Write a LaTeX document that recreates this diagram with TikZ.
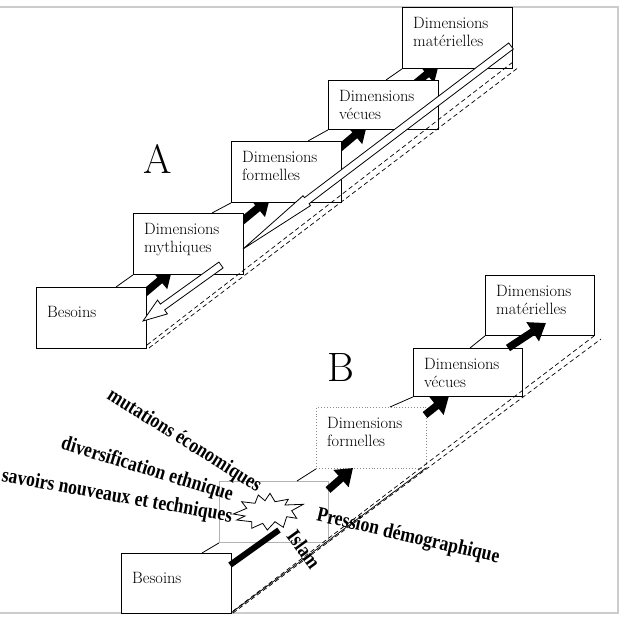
\documentclass[tikz,border=0pt]{standalone}
\usepackage{fontspec}
\usepackage{graphicx}
\newfontfamily\labfont{Liberation Serif}
\usetikzlibrary{arrows.meta,calc}
\newcommand\hollowarr[5]{%
  \path (#2) coordinate (hp) ($(#2)!#4!(#1)$) coordinate (hb);
  \draw[hollow] ($(#1)!#3!90:(hp)$) -- ($(hb)!#3!90:(hp)$) -- ($(hb)!#5!90:(hp)$) -- (hp)
    -- ($(hb)!#5!-90:(hp)$) -- ($(hb)!#3!-90:(hp)$) -- ($(#1)!#3!-90:(hp)$) -- cycle;}
\newcommand\tallbold[1]{\scalebox{1}[1.18]{#1}}
\begin{document}
\begin{tikzpicture}[x=1pt,y=-1pt,
  box/.style={draw=black,line width=0.9pt,fill=white,inner sep=0pt,anchor=north west},
  boxtxt/.style={inner sep=0pt,anchor=north west,align=left,font=\fontsize{16.4}{18}\selectfont},
  tread/.style={line width=0.8pt},
  fatarrow/.style={line width=7.5pt,-{Triangle[width=22pt,length=16pt]}},
  hollow/.style={draw=black,line width=0.8pt,fill=white,line join=miter},
  under/.style={line width=0.7pt,dash pattern=on 4.5pt off 3pt},
  lab/.style={font=\labfont\bfseries\fontsize{17.7}{20}\selectfont,inner sep=0pt},
  big/.style={font=\fontsize{41}{41}\selectfont,inner sep=0pt},
  frame/.style={draw=black!20,line width=2pt}
]
\useasboundingbox (0,0) rectangle (624,616);
% frame
\draw[frame] (0,7) -- (618,7) -- (618,613) -- (0,613);

% ---------------- A ----------------
% black arrows (behind the boxes)
\coordinate (a1s) at (133,303); \coordinate (a1e) at (172,270);
\coordinate (a2s) at (230,231); \coordinate (a2e) at (270,198);
\coordinate (a3s) at (328,158); \coordinate (a3e) at (367,125);
\coordinate (a4s) at (398,98);  \coordinate (a4e) at (439,64);
\draw[fatarrow] (a1s) -- (a1e);
\draw[fatarrow] (a2s) -- (a2e);
\draw[fatarrow] (a3s) -- (a3e);
\draw[fatarrow] (a4s) -- (a4e);

\node[box,minimum width=110pt,minimum height=61pt] (aB) at (36,287) {};
\node[box,minimum width=110pt,minimum height=61pt] (aM) at (133,213) {};
\node[box,minimum width=110pt,minimum height=61pt] (aF) at (231,141) {};
\node[box,minimum width=110pt,minimum height=49pt] (aV) at (328,80) {};
\node[box,minimum width=110pt,minimum height=61pt] (aT) at (402,7) {};

\coordinate (ta1) at (116,287); \coordinate (ta2) at (212,213);
\coordinate (ta3) at (308,141); \coordinate (ta4) at (386,80);
\draw[tread] (ta1) -- (aM.south west);
\draw[tread] (ta2) -- (aF.south west);
\draw[tread] (ta3) -- (aV.south west);
\draw[tread] (ta4) -- (aT.south west);

\node[boxtxt] (aBt) at (47,306) {Besoins};
\node[boxtxt] (aMt) at (144,223) {Dimensions\\mythiques};
\node[boxtxt] (aFt) at (242,151) {Dimensions\\formelles};
\node[boxtxt] (aVt) at (339,90) {Dimensions\\vécues};
\node[boxtxt] (aTt) at (413,17) {Dimensions\\matérielles};

% underside dashed lines
\coordinate (ua1) at (147,345); \coordinate (ua2) at (513,62);
\coordinate (ub1) at (149,348); \coordinate (ub2) at (519,67);
\draw[under] (ua1) -- (ua2);
\draw[under] (ub1) -- (ub2);

% hollow arrows
\coordinate (hT1) at (511,46); \coordinate (hP1) at (243,249);
\hollowarr{hT1}{hP1}{3.8pt}{80pt}{6.2pt}
\coordinate (hT2) at (221,265); \coordinate (hP2) at (143,321);
\hollowarr{hT2}{hP2}{3.6pt}{24pt}{8.5pt}

\node[big] (lA) at (158,159) {A};

% ---------------- B ----------------
\node[box,minimum width=110pt,minimum height=60pt] (bB) at (121,553) {};
\node[box,draw=black!30,minimum width=109pt,minimum height=61pt] (bM) at (219,481) {};
\node[box,draw=black!45,dotted,minimum width=110pt,minimum height=61pt] (bF) at (316,407) {};
\node[box,minimum width=109pt,minimum height=48pt] (bV) at (413,348) {};
\node[box,minimum width=109pt,minimum height=60pt] (bT) at (485,275) {};

\coordinate (tb1) at (202,553); \coordinate (tb2) at (297,481);
\coordinate (tb3) at (390,407); \coordinate (tb4) at (470,348);
\draw[tread] (tb1) -- (bM.south west);
\draw[tread] (tb2) -- (bF.south west);
\draw[tread] (tb3) -- (bV.south west);
\draw[tread] (tb4) -- (bT.south west);

\node[boxtxt] (bBt) at (132,572) {Besoins};
\node[boxtxt] (bFt) at (327,417) {Dimensions\\formelles};
\node[boxtxt] (bVt) at (424,358) {Dimensions\\vécues};
\node[boxtxt] (bTt) at (496,285) {Dimensions\\matérielles};

\coordinate (b1s) at (328,490); \coordinate (b1e) at (353,468);
\coordinate (b2s) at (425,415); \coordinate (b2e) at (449,396);
\coordinate (b3s) at (508,348); \coordinate (b3e) at (546,323);
\draw[fatarrow] (b1s) -- (b1e);
\draw[fatarrow] (b2s) -- (b2e);
\draw[fatarrow] (b3s) -- (b3e);

% underside
\coordinate (uc1) at (233,611); \coordinate (uc2) at (594,336);
\coordinate (ud1) at (233,613); \coordinate (ud2) at (601,339);
\coordinate (us1) at (231,613); \coordinate (us2) at (426,468);
\draw[under] (uc1) -- (uc2);
\draw[under] (ud1) -- (ud2);
\draw[line width=0.7pt] (us1) -- (us2);

% black bar
\coordinate (bar1) at (230,565); \coordinate (bar2) at (279,530);
\draw[line width=6pt] (bar1) -- (bar2);

% starburst
\draw[line width=0.8pt,fill=white,line join=miter]
 (233.3,514) -- (246.7,508.3) -- (241.7,501.7) -- (255,503.3) -- (258.3,495)
 -- (265,500.7) -- (270,493.3) -- (275,501.7) -- (288.3,499.3) -- (285,505)
 -- (303.3,504.3) -- (291.7,510.7) -- (296.7,518.3) -- (286.7,516.7) -- (283.3,527.3)
 -- (275,521.7) -- (267.3,530) -- (262.7,523.3) -- (251.7,528.3) -- (251.7,521.7)
 -- (236.7,520) -- (245,516) -- cycle;

\node[big] (lB) at (341,367) {B};

\node[lab,rotate=-32] (mut) at (184,441) {\tallbold{mutations économiques}};
\node[lab,rotate=-17] (div) at (147,470) {\tallbold{diversification ethnique}};
\node[lab,rotate=-10] (sav) at (117,497) {\tallbold{savoirs nouveaux et techniques}};
\node[lab,rotate=-13] (pre) at (408,537) {\tallbold{Pression démographique}};
\node[lab,rotate=-54] (isl) at (304,549) {\tallbold{Islam}};
\end{tikzpicture}
\end{document}
